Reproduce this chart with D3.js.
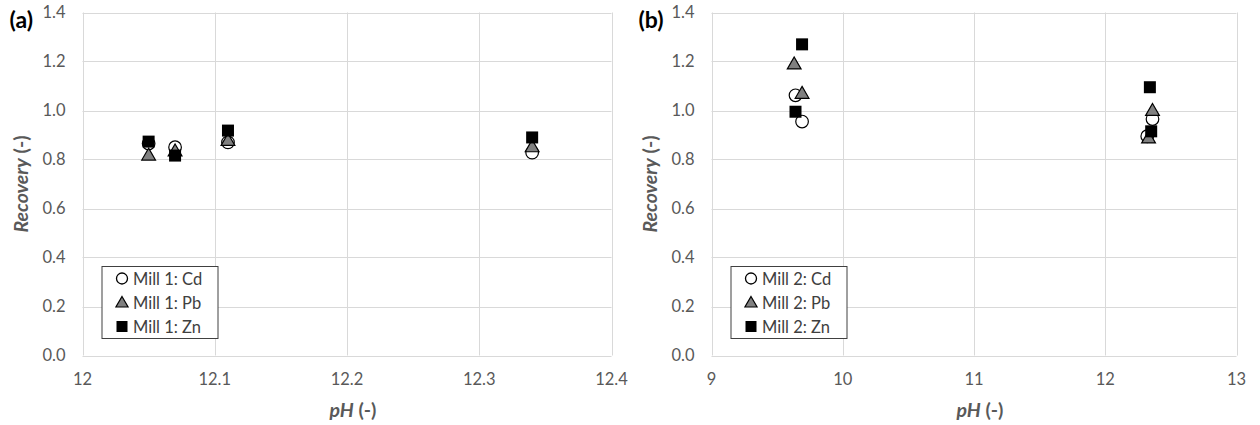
<!DOCTYPE html>
<html>
<head>
<meta charset="utf-8">
<script src="https://d3js.org/d3.v7.min.js"></script>
<style>
  body { margin: 0; background: #fff; font-family: Lato, "Open Sans", sans-serif; }
  .grid line { stroke: #d9d9d9; stroke-width: 1; }
  .tick-lbl { fill: #595959; font-size: 16.5px; }
  .ttl { fill: #595959; font-size: 19.5px; font-weight: bold; }
  .lgd text { fill: #404040; font-size: 16.5px; }
</style>
</head>
<body>
<svg id="fig" width="1260" height="425"></svg>
<script>
// ---- panel (a): Mill 1 ----
var millA_pH = [12.05, 12.07, 12.11, 12.34];
var millA_Cd = [0.865, 0.850, 0.870, 0.828];
var millA_Pb = [0.818, 0.835, 0.878, 0.852];
var millA_Zn = [0.873, 0.816, 0.918, 0.890];
var xTicksA = [12, 12.1, 12.2, 12.3, 12.4];

// ---- panel (b): Mill 2 ----
var millB_pH_Cd = [9.64, 9.69, 12.32, 12.36];
var millB_Cd = [1.062, 0.955, 0.895, 0.965];
var millB_pH_Pb = [9.63, 9.69, 12.33, 12.36];
var millB_Pb = [1.190, 1.070, 0.888, 1.000];
var millB_pH_Zn = [9.64, 9.69, 12.34, 12.35];
var millB_Zn = [0.995, 1.270, 1.095, 0.915];
var xTicksB = [9, 10, 11, 12, 13];

var yTicks = [0, 0.2, 0.4, 0.6, 0.8, 1.0, 1.2, 1.4];

var svg = d3.select("#fig");

function panel(opt) {
  var x = d3.scaleLinear().domain(opt.xdom).range([opt.left, opt.right]);
  var y = d3.scaleLinear().domain([0, 1.4]).range([355.5, 12.5]);
  var g = svg.append("g");

  var grid = g.append("g").attr("class", "grid");
  grid.selectAll(".gy").data(yTicks).enter().append("line")
    .attr("x1", opt.left).attr("x2", opt.right)
    .attr("y1", function(d) { return Math.round(y(d)) + 0.5; })
    .attr("y2", function(d) { return Math.round(y(d)) + 0.5; });
  grid.selectAll(".gx").data(opt.xticks).enter().append("line")
    .attr("y1", y(1.4)).attr("y2", y(0))
    .attr("x1", function(d) { return Math.round(x(d)) + 0.5; })
    .attr("x2", function(d) { return Math.round(x(d)) + 0.5; });

  g.selectAll(".yl").data(yTicks).enter().append("text")
    .attr("class", "tick-lbl")
    .attr("x", opt.left - 17).attr("y", function(d) { return y(d) + 5.5; })
    .attr("text-anchor", "end")
    .text(function(d) { return d.toFixed(1); });
  g.selectAll(".xl").data(opt.xticks).enter().append("text")
    .attr("class", "tick-lbl")
    .attr("x", function(d) { return x(d); }).attr("y", 385)
    .attr("text-anchor", "middle")
    .text(function(d) { return String(d); });

  var xt = g.append("text").attr("class", "ttl")
    .attr("x", (opt.left + opt.right) / 2 + 6).attr("y", 417)
    .attr("text-anchor", "middle");
  xt.append("tspan").attr("font-style", "italic").text("pH");
  xt.append("tspan").text(" (-)");

  var yt = g.append("text").attr("class", "ttl")
    .attr("transform", "translate(" + (opt.left - 55) + "," + y(0.7) + ") rotate(-90)")
    .attr("text-anchor", "middle");
  yt.append("tspan").attr("font-style", "italic").text("Recovery");
  yt.append("tspan").text(" (-)");

  g.append("text").attr("x", opt.left - 73).attr("y", 28)
    .attr("font-size", "23px").attr("font-weight", "bold").attr("fill", "#000")
    .text(opt.tag);

  var tri = d3.symbol().type(d3.symbolTriangle).size(82);

  g.selectAll(".cd").data(opt.cd).enter().append("circle")
    .attr("cx", function(d) { return x(d[0]); }).attr("cy", function(d) { return y(d[1]); })
    .attr("r", 6.3).attr("fill", "#fff").attr("stroke", "#000").attr("stroke-width", 1.2);
  g.selectAll(".pb").data(opt.pb).enter().append("path")
    .attr("d", tri)
    .attr("transform", function(d) { return "translate(" + x(d[0]) + "," + (y(d[1]) + 1) + ")"; })
    .attr("fill", "#808080").attr("stroke", "#000").attr("stroke-width", 1.2);
  g.selectAll(".zn").data(opt.zn).enter().append("rect")
    .attr("x", function(d) { return x(d[0]) - 6; }).attr("y", function(d) { return y(d[1]) - 6; })
    .attr("width", 12).attr("height", 12).attr("fill", "#000");

  // legend
  var lg = g.append("g").attr("class", "lgd")
    .attr("transform", "translate(" + (opt.left + 19.5) + ",266.5)");
  lg.append("rect").attr("width", 116).attr("height", 72)
    .attr("fill", "#fff").attr("stroke", "#404040").attr("stroke-width", 1);
  var names = ["Cd", "Pb", "Zn"];
  names.forEach(function(n, i) {
    var cy = 12 + i * 24;
    if (i === 0) lg.append("circle").attr("cx", 20).attr("cy", cy).attr("r", 5.5)
      .attr("fill", "#fff").attr("stroke", "#000").attr("stroke-width", 1.3);
    if (i === 1) lg.append("path").attr("d", d3.symbol().type(d3.symbolTriangle).size(64))
      .attr("transform", "translate(20," + (cy + 1) + ")")
      .attr("fill", "#808080").attr("stroke", "#000").attr("stroke-width", 1.2);
    if (i === 2) lg.append("rect").attr("x", 14.5).attr("y", cy - 5.5).attr("width", 11).attr("height", 11)
      .attr("fill", "#000");
    lg.append("text").attr("x", 31).attr("y", cy + 6).text(opt.mill + ": " + n);
  });
}

function zip(xs, ys) { return xs.map(function(v, i) { return [v, ys[i]]; }); }

panel({
  xdom: [12, 12.4], left: 82.5, right: 611.5, xticks: xTicksA, tag: "(a)", mill: "Mill 1",
  cd: zip(millA_pH, millA_Cd), pb: zip(millA_pH, millA_Pb), zn: zip(millA_pH, millA_Zn)
});
panel({
  xdom: [9, 13], left: 711.5, right: 1236.5, xticks: xTicksB, tag: "(b)", mill: "Mill 2",
  cd: zip(millB_pH_Cd, millB_Cd), pb: zip(millB_pH_Pb, millB_Pb), zn: zip(millB_pH_Zn, millB_Zn)
});
</script>
</body>
</html>
